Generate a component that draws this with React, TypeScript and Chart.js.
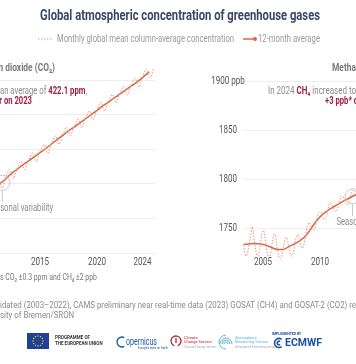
import { useEffect, useRef } from 'react';
import { Chart, registerables } from 'chart.js';

Chart.register(...registerables);

const FONT = 'Roboto, "Noto Sans", sans-serif';
const SQ = 0.73; // horizontal squeeze to imitate the condensed face of the original

// ---------- DATA ----------
const X_TICKS = [2005, 2010, 2015, 2020, 2024];
const CO2_Y_TICKS = [370, 380, 390, 400, 410, 420];
const CH4_Y_TICKS = [1750, 1800, 1850, 1900];

// CO2 monthly (ppm), Jan 2011 .. Dec 2024
const CO2_START_YEAR = 2011;
const CO2_MONTHLY = [
  389.4, 390.1, 390.7, 391.2, 391.2, 390.6, 389.6, 388.9, 388.8, 389.5, 390.5, 391.3,
  392.2, 392.9, 393.5, 394.0, 394.0, 393.4, 392.4, 391.7, 391.6, 392.3, 393.3, 394.1,
  394.7, 395.4, 396.0, 396.5, 396.5, 395.9, 394.9, 394.2, 394.1, 394.8, 395.8, 396.6,
  397.0, 397.7, 398.3, 398.8, 398.8, 398.2, 397.2, 396.5, 396.4, 397.1, 398.1, 398.9,
  399.4, 400.1, 400.7, 401.2, 401.2, 400.6, 399.6, 398.9, 398.8, 399.5, 400.5, 401.3,
  402.0, 402.7, 403.3, 403.8, 403.8, 403.2, 402.2, 401.5, 401.4, 402.1, 403.1, 403.9,
  404.5, 405.2, 405.8, 406.3, 406.3, 405.7, 404.7, 404.0, 403.9, 404.6, 405.6, 406.4,
  406.8, 407.5, 408.1, 408.6, 408.6, 408.0, 407.0, 406.3, 406.2, 406.9, 407.9, 408.7,
  409.2, 409.9, 410.5, 411.0, 411.0, 410.4, 409.4, 408.7, 408.6, 409.3, 410.3, 411.1,
  411.7, 412.4, 413.0, 413.5, 413.5, 412.9, 411.9, 411.2, 411.1, 411.8, 412.8, 413.6,
  414.0, 414.7, 415.3, 415.8, 415.8, 415.2, 414.2, 413.5, 413.4, 414.1, 415.1, 415.9,
  416.3, 417.0, 417.6, 418.1, 418.1, 417.5, 416.5, 415.8, 415.7, 416.4, 417.4, 418.2,
  418.6, 419.3, 419.9, 420.4, 420.4, 419.8, 418.8, 418.1, 418.0, 418.7, 419.7, 420.5,
  421.3, 422.0, 422.6, 423.1, 423.1, 422.5, 421.5, 420.8, 420.7, 421.4, 422.4, 423.2,
];
// CO2 12-month average
const CO2_AVG_YEARS = [
  2011.5, 2012.0, 2012.5, 2013.0, 2013.5, 2014.0, 2014.5, 2015.0, 2015.5, 2016.0, 2016.5,
  2017.0, 2017.5, 2018.0, 2018.5, 2019.0, 2019.5, 2020.0, 2020.5, 2021.0, 2021.5, 2022.0,
  2022.5, 2023.0, 2023.5, 2024.0, 2024.6,
];
const CO2_AVG = [
  390.1, 391.4, 393.0, 394.2, 395.5, 396.6, 397.8, 399.0, 400.2, 401.5, 402.8,
  404.0, 405.3, 406.4, 407.6, 408.8, 410.0, 411.2, 412.5, 413.6, 414.8, 415.9,
  417.1, 418.2, 419.4, 420.7, 422.4,
];

// CH4 monthly (ppb), Apr 2003 .. Dec 2014
const CH4_START_YEAR = 2003;
const CH4_START_MONTH = 3; // April (0-based)
const CH4_MONTHLY = [
  1733, 1727, 1723, 1722, 1724, 1729, 1735, 1741, 1745,
  1752, 1749, 1740, 1733, 1727, 1723, 1722, 1724, 1729, 1736, 1743, 1747,
  1748, 1745, 1738, 1731, 1725, 1721, 1720, 1722, 1727, 1734, 1740, 1744,
  1744, 1740, 1733, 1727, 1722, 1720, 1719, 1721, 1725, 1731, 1736, 1740,
  1741, 1739, 1734, 1729, 1725, 1722, 1722, 1724, 1728, 1734, 1739, 1742,
  1744, 1742, 1738, 1734, 1731, 1730, 1732, 1736, 1741, 1747, 1752, 1754,
  1756, 1755, 1752, 1749, 1748, 1748, 1750, 1753, 1758, 1763, 1766, 1767,
  1767, 1766, 1763, 1760, 1759, 1760, 1762, 1765, 1770, 1774, 1776, 1776,
  1775, 1773, 1770, 1768, 1767, 1768, 1770, 1774, 1778, 1781, 1783, 1783,
  1782, 1780, 1777, 1775, 1774, 1775, 1777, 1780, 1784, 1787, 1789, 1789,
  1788, 1786, 1783, 1781, 1780, 1781, 1783, 1786, 1790, 1793, 1795, 1795,
  1794, 1792, 1789, 1787, 1786, 1787, 1789, 1792, 1796, 1799, 1801, 1801,
];
const CH4_AVG_YEARS = [
  2003.3, 2003.75, 2004.25, 2004.75, 2005.25, 2005.75, 2006.25, 2006.75, 2007.25, 2007.75,
  2008.25, 2008.75, 2009.25, 2009.75, 2010.25, 2010.75, 2011.25, 2011.75, 2012.25, 2012.75,
  2013.25, 2013.75, 2014.25, 2014.75,
];
const CH4_AVG = [
  1733.7, 1734.2, 1734.6, 1734.2, 1733.0, 1730.6, 1728.6, 1728.6, 1731.5, 1734.3,
  1737.6, 1742.5, 1750.5, 1758.5, 1764.5, 1768.8, 1772.3, 1775.8, 1779.0, 1782.0,
  1784.8, 1787.5, 1790.5, 1793.5,
];

// ---------- STYLE ----------
const LINE = '#d9674a';
const DOT_LINE = '#e8927c';
const RED = '#9b2145';
const GREY = '#8c8c8c';
const GRID = '#eeeeee';
const TICK = '#555555';
const L_OFF = 140; // left canvas is shifted left by this many px
const R_OFF = 180; // right canvas starts here

type Seg = { text: string; font: string; color: string };

const f = (size: number, bold = false) => `${bold ? 'bold ' : ''}${size}px ${FONT}`;

function segWidth(ctx: CanvasRenderingContext2D, segs: Seg[]) {
  let total = 0;
  for (const s of segs) { ctx.font = s.font; total += ctx.measureText(s.text).width; }
  return total;
}

// width of the first (or last) `count` characters of the segment run
function spanWidth(ctx: CanvasRenderingContext2D, segs: Seg[], count: number, fromEnd: boolean) {
  const full = segs.map((s) => s.text).join('');
  const start = fromEnd ? full.length - count : 0;
  const end = fromEnd ? full.length : count;
  let pos = 0, w = 0;
  for (const s of segs) {
    const a = Math.max(start, pos), b = Math.min(end, pos + s.text.length);
    if (b > a) { ctx.font = s.font; w += ctx.measureText(s.text.slice(a - pos, b - pos)).width; }
    pos += s.text.length;
  }
  return w;
}

function rich(ctx: CanvasRenderingContext2D, segs: Seg[], x: number, y: number, align: 'left' | 'right' | 'center', sq = SQ) {
  const total = segWidth(ctx, segs);
  ctx.save();
  ctx.translate(x, y); ctx.scale(sq, 1);
  let cx = align === 'right' ? -total : align === 'center' ? -total / 2 : 0;
  ctx.textAlign = 'left';
  ctx.textBaseline = 'middle';
  for (const s of segs) {
    ctx.font = s.font; ctx.fillStyle = s.color;
    ctx.fillText(s.text, cx, 0);
    cx += ctx.measureText(s.text).width;
  }
  ctx.restore();
}
// squeeze so that the visible part (a prefix for left align, a suffix for right align) spans `target` px
function richSpan(ctx: CanvasRenderingContext2D, segs: Seg[], x: number, y: number, align: 'left' | 'right', visible: number, target: number) {
  const w = spanWidth(ctx, segs, visible, align === 'right');
  rich(ctx, segs, x, y, align, target / w);
}
const txt = (ctx: CanvasRenderingContext2D, text: string, x: number, y: number, font: string, color: string, align: 'left' | 'right' | 'center' = 'left', sq = SQ) =>
  rich(ctx, [{ text, font, color }], x, y, align, sq);

function fit(ctx: CanvasRenderingContext2D, text: string, x: number, y: number, width: number, font: string, color: string, align: CanvasTextAlign = 'left') {
  ctx.font = font;
  const sx = width / ctx.measureText(text).width;
  ctx.save();
  ctx.translate(x, y); ctx.scale(sx, 1);
  ctx.textAlign = align; ctx.textBaseline = 'middle'; ctx.fillStyle = color;
  ctx.fillText(text, 0, 0);
  ctx.restore();
}

function seasonal(ctx: CanvasRenderingContext2D, cx: number, cy: number, textY: number, textX: number) {
  ctx.save();
  ctx.strokeStyle = '#c9c9c9'; ctx.lineWidth = 1;
  ctx.beginPath(); ctx.arc(cx, cy, 7.5, 0, Math.PI * 2); ctx.stroke();
  ctx.beginPath(); ctx.moveTo(cx, cy + 7.5); ctx.lineTo(cx, textY - 6); ctx.stroke();
  ctx.restore();
  txt(ctx, 'Seasonal variability', textX, textY, f(10.5), GREY);
}

function xTickLabels(ctx: CanvasRenderingContext2D, xs: any, dx: number) {
  for (const t of xs.ticks) {
    txt(ctx, String(t.value), xs.getPixelForValue(t.value) + dx, 262, f(11), TICK, 'center');
  }
}

const leftDecor = {
  id: 'leftDecor',
  afterDraw(chart: any) {
    const ctx: CanvasRenderingContext2D = chart.ctx;
    const xs = chart.scales.x, ys = chart.scales.y;
    ctx.save();
    ctx.translate(L_OFF, 0);
    // title
    fit(ctx, 'Global atmospheric concentration of greenhouse gases', 180, 16, 280, f(15.5, true), '#3b4566', 'center');
    // legend
    ctx.save();
    ctx.strokeStyle = DOT_LINE; ctx.lineWidth = 1; ctx.setLineDash([1.5, 1.5]);
    ctx.beginPath(); ctx.moveTo(38, 39); ctx.lineTo(53, 39); ctx.stroke();
    ctx.setLineDash([]);
    ctx.strokeStyle = LINE; ctx.lineWidth = 1.5;
    ctx.beginPath(); ctx.moveTo(243, 39); ctx.lineTo(255, 39); ctx.stroke();
    ctx.fillStyle = LINE; ctx.beginPath(); ctx.arc(255, 39, 2, 0, Math.PI * 2); ctx.fill();
    ctx.restore();
    fit(ctx, 'Monthly global mean column-average concentration', 57, 39, 177, f(10.5), '#9a9a9a');
    fit(ctx, '12-month average', 258, 39, 62, f(10.5), '#9a9a9a');

    // x tick labels
    xTickLabels(ctx, xs, -L_OFF);

    // panel heading & highlight text
    txt(ctx, 'Carbon dioxide (CO₂)', 55, 68, f(11.5, true), '#7a7a7a', 'right');
    const line1: Seg[] = [
      { text: 'In 2024 ', font: f(10.5), color: GREY },
      { text: 'CO₂', font: f(10.5, true), color: RED },
      { text: ' increased to an average of ', font: f(10.5), color: GREY },
      { text: '422.1 ppm', font: f(10.5, true), color: RED },
      { text: ',', font: f(10.5), color: GREY },
    ];
    richSpan(ctx, line1, 87, 91, 'right', 'an average of 422.1 ppm,'.length, 87);
    txt(ctx, '+2.9 ppm* higher on 2023', 32, 101, f(10.5, true), RED, 'right');

    // seasonal variability annotation
    const cx = xs.getPixelForValue(2011.7) - L_OFF;
    const cy = ys.getPixelForValue(390.3);
    seasonal(ctx, cx, cy, 208, cx - 15);

    // footnotes
    richSpan(ctx, [{ text: '*Uncertainties CO₂ ±0.3 ppm and CH₄ ±2 ppb', font: f(8.5), color: '#777' }],
      97, 278, 'right', 's CO₂ ±0.3 ppm and CH₄ ±2 ppb'.length, 97);
    const vis = 'idated (2003–2022), CAMS preliminary near real-time data (2023) GOSAT (CH4) and GOSAT-2 (CO2) re';
    ctx.font = f(9.5);
    const sx = 356 / ctx.measureText(vis).width;
    ctx.save();
    ctx.fillStyle = '#8a8a8a'; ctx.textBaseline = 'middle';
    ctx.translate(0, 306); ctx.scale(sx, 1);
    ctx.textAlign = 'right'; ctx.fillText('Source: C3S/Obs4MIPs (v4.5) consol', 0, 0);
    ctx.textAlign = 'left'; ctx.fillText('idated (2003–2022), CAMS preliminary near real-time data (2023) GOSAT (CH4) and GOSAT-2 (CO2) retrievals from', 0, 0);
    ctx.restore();
    ctx.save();
    ctx.fillStyle = '#8a8a8a'; ctx.textBaseline = 'middle'; ctx.font = f(9.5);
    ctx.translate(0, 316); ctx.scale(sx, 1);
    ctx.textAlign = 'right'; ctx.fillText('Univer', 0, 0);
    ctx.textAlign = 'left'; ctx.fillText('sity of Bremen/SRON', 0, 0);
    ctx.restore();

    // logos
    ctx.fillStyle = '#21409a'; ctx.fillRect(27, 333, 22, 16);
    ctx.fillStyle = '#ffdd00';
    for (let i = 0; i < 12; i++) {
      const a = (i / 12) * Math.PI * 2;
      ctx.beginPath(); ctx.arc(38 + Math.cos(a) * 5, 341 + Math.sin(a) * 5, 0.7, 0, Math.PI * 2); ctx.fill();
    }
    ctx.textAlign = 'left'; ctx.textBaseline = 'middle';
    ctx.fillStyle = '#333'; ctx.font = f(4.5, true);
    ctx.fillText('PROGRAMME OF', 55, 338); ctx.fillText('THE EUROPEAN UNION', 55, 344);
    // copernicus
    ctx.strokeStyle = '#1b5aa6'; ctx.lineWidth = 1.4;
    ctx.beginPath(); ctx.arc(122, 342, 5, Math.PI * 0.35, Math.PI * 1.65); ctx.stroke();
    fit(ctx, 'opernicus', 126, 342, 31, f(10), '#1b5aa6');
    ctx.fillStyle = '#1b5aa6'; ctx.font = f(3);
    ctx.fillText("Europe's eyes on Earth", 138, 348);
    // climate change service
    ctx.strokeStyle = '#b4202f'; ctx.lineWidth = 1.3;
    ctx.beginPath(); ctx.arc(176, 341, 5, Math.PI * 0.6, Math.PI * 2.4); ctx.stroke();
    ctx.beginPath(); ctx.moveTo(176, 338); ctx.lineTo(176, 343); ctx.stroke();
    ctx.fillStyle = '#b4202f'; ctx.font = f(4);
    ctx.fillText('Climate', 184, 338); ctx.fillText('Change Service', 184, 342);
    ctx.fillStyle = '#aaa'; ctx.font = f(3); ctx.fillText('Climate Change Service', 184, 347);
    // atmosphere monitoring service
    ctx.strokeStyle = '#5db4e0'; ctx.lineWidth = 1;
    for (let r = 2; r <= 6; r += 2) { ctx.beginPath(); ctx.arc(226, 344, r, Math.PI, Math.PI * 2); ctx.stroke(); }
    ctx.beginPath(); ctx.arc(226, 342, 7, Math.PI * 0.5, Math.PI * 1.5); ctx.stroke();
    ctx.fillStyle = '#5db4e0'; ctx.font = f(4);
    ctx.fillText('Atmosphere', 235, 338); ctx.fillText('Monitoring Service', 235, 342);
    ctx.fillStyle = '#aaa'; ctx.font = f(3); ctx.fillText('Atmosphere Monitoring Service', 235, 347);
    // ECMWF
    ctx.fillStyle = '#1f4ea1'; ctx.font = f(3.5, true);
    ctx.fillText('IMPLEMENTED BY', 272, 334);
    ctx.strokeStyle = '#1f4ea1'; ctx.lineWidth = 1.6;
    ctx.beginPath(); ctx.arc(279, 343, 4.5, Math.PI * 0.3, Math.PI * 1.7); ctx.stroke();
    ctx.beginPath(); ctx.arc(279, 343, 1.8, Math.PI * 0.3, Math.PI * 1.7); ctx.stroke();
    fit(ctx, 'ECMWF', 285, 343, 37, f(11, true), '#1f4ea1');
    ctx.restore();
  },
};

const rightDecor = {
  id: 'rightDecor',
  afterDraw(chart: any) {
    const ctx: CanvasRenderingContext2D = chart.ctx;
    const xs = chart.scales.x, ys = chart.scales.y;
    ctx.save();
    ctx.translate(-R_OFF, 0);
    // axis labels
    xTickLabels(ctx, xs, R_OFF);
    for (const t of ys.ticks) {
      const label = t.value === 1900 ? '1900 ppb' : String(t.value);
      txt(ctx, label, 228, ys.getPixelForValue(t.value), f(11), TICK, 'center');
    }
    txt(ctx, 'Methane (CH₄)', 332, 68, f(11.5, true), '#7a7a7a', 'left');
    const line1: Seg[] = [
      { text: 'In 2024 ', font: f(10.5), color: GREY },
      { text: 'CH₄', font: f(10.5, true), color: RED },
      { text: ' increased to an average of 1897 ppb,', font: f(10.5), color: GREY },
    ];
    richSpan(ctx, line1, 268, 91, 'left', 'In 2024 CH₄ increased to'.length, 88);
    txt(ctx, '+3 ppb* on 2023', 325, 101, f(10.5, true), RED, 'left');
    const cx = xs.getPixelForValue(2012.85) + R_OFF;
    const cy = ys.getPixelForValue(1782.6);
    seasonal(ctx, cx, cy, 222, cx - 16);
    ctx.restore();
  },
};

function monthlyPoints(startYear: number, startMonth: number, values: number[]) {
  return values.map((v, i) => ({ x: startYear + (startMonth + i + 0.5) / 12, y: v }));
}
function pairPoints(years: number[], values: number[]) {
  return years.map((x, i) => ({ x, y: values[i] }));
}

function makeConfig(opts: {
  monthly: { x: number; y: number }[];
  avg: { x: number; y: number }[];
  endDot: boolean;
  xMin: number; xMax: number;
  yMin: number; yMax: number; yTicks: number[];
  padding: { left: number; right: number; top: number; bottom: number };
  yWidth: number;
  plugin: any;
}): any {
  const n = opts.avg.length;
  return {
    type: 'line',
    data: {
      datasets: [
        {
          data: opts.monthly, borderColor: DOT_LINE, borderWidth: 1, borderDash: [1.5, 1.5],
          pointRadius: 0, tension: 0.35, clip: false,
        },
        {
          data: opts.avg, borderColor: LINE, borderWidth: 1.5, cubicInterpolationMode: 'monotone',
          pointRadius: (c: any) => (opts.endDot && c.dataIndex === n - 1 ? 2.5 : 0),
          pointBackgroundColor: LINE, pointBorderWidth: 0, clip: false,
        },
      ],
    },
    options: {
      responsive: false,
      animation: false,
      devicePixelRatio: 1,
      layout: { padding: opts.padding },
      plugins: { legend: { display: false }, tooltip: { enabled: false }, title: { display: false } },
      events: [],
      scales: {
        x: {
          type: 'linear', min: opts.xMin, max: opts.xMax,
          grid: { display: false, drawTicks: false },
          border: { display: false },
          afterBuildTicks: (s: any) => { s.ticks = X_TICKS.map((v) => ({ value: v })); },
          afterFit: (s: any) => { s.height = 20; },
          ticks: { display: false, autoSkip: false },
        },
        y: {
          type: 'linear', min: opts.yMin, max: opts.yMax,
          grid: { color: GRID, lineWidth: 1, drawTicks: false },
          border: { display: false },
          afterBuildTicks: (s: any) => { s.ticks = opts.yTicks.map((v) => ({ value: v })); },
          afterFit: (s: any) => { s.width = opts.yWidth; },
          ticks: { display: false },
        },
      },
    },
    plugins: [opts.plugin],
  };
}

export default function App() {
  const leftRef = useRef<HTMLCanvasElement>(null);
  const rightRef = useRef<HTMLCanvasElement>(null);

  useEffect(() => {
    const left = new Chart(leftRef.current!, makeConfig({
      monthly: monthlyPoints(CO2_START_YEAR, 0, CO2_MONTHLY),
      avg: pairPoints(CO2_AVG_YEARS, CO2_AVG),
      endDot: true,
      xMin: 2002.72, xMax: 2025.09,
      yMin: 370, yMax: 420, yTicks: CO2_Y_TICKS,
      padding: { left: 40, right: 201, top: 80, bottom: 91 },
      yWidth: 0,
      plugin: leftDecor,
    }));
    const right = new Chart(rightRef.current!, makeConfig({
      monthly: monthlyPoints(CH4_START_YEAR, CH4_START_MONTH, CH4_MONTHLY),
      avg: pairPoints(CH4_AVG_YEARS, CH4_AVG),
      endDot: false,
      xMin: 2003.246, xMax: 2025.61,
      yMin: 1725, yMax: 1900, yTicks: CH4_Y_TICKS,
      padding: { left: 0, right: 22, top: 81, bottom: 91 },
      yWidth: 63,
      plugin: rightDecor,
    }));
    return () => { left.destroy(); right.destroy(); };
  }, []);

  return (
    <div style={{ position: 'fixed', left: 0, top: 0, width: 356, height: 364, overflow: 'hidden', background: '#fff' }}>
      <canvas ref={leftRef} width={496} height={364}
        style={{ position: 'absolute', left: -L_OFF, top: 0, width: 496, height: 364 }} />
      <canvas ref={rightRef} width={340} height={364}
        style={{ position: 'absolute', left: R_OFF, top: 0, width: 340, height: 364 }} />
    </div>
  );
}
